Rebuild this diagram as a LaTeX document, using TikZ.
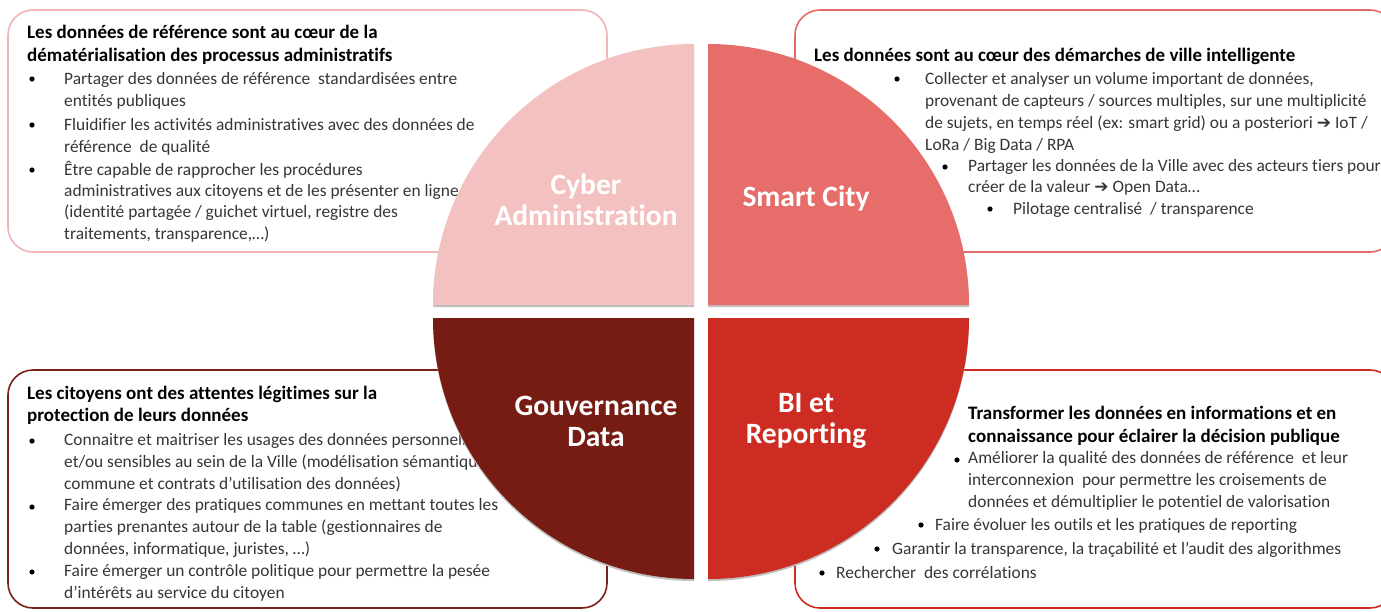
\documentclass[tikz,border=0pt]{standalone}
\usepackage{fontspec}
\setmainfont{Carlito}[Ligatures=NoCommon]
\newfontfamily\arrowfont{DejaVu Sans}
\definecolor{qA}{HTML}{F4C1C1}
\definecolor{qB}{HTML}{E76D6B}
\definecolor{qC}{HTML}{761C13}
\definecolor{qD}{HTML}{CC2C21}
\definecolor{bA}{HTML}{F2B6B6}
\definecolor{bB}{HTML}{E36A68}
\definecolor{bC}{HTML}{7A2016}
\definecolor{bD}{HTML}{CC2C21}
\definecolor{bodytxt}{HTML}{363636}
\newcommand\arr{{\arrowfont\fontsize{17}{21.6}\selectfont ➔}}
\newcommand\dsp{\ \ }
\begin{document}
\begin{tikzpicture}[x=1pt,y=1pt,
  panel/.style={fill=white,line width=1.6pt,rounded corners=25pt},
  ttl/.style={anchor=base west,inner sep=0pt,align=left,text=black,font=\fontsize{19}{22.5}\selectfont\bfseries},
  body/.style={anchor=base west,inner sep=0pt,align=left,text=bodytxt,font=\fontsize{17.4}{21.6}\selectfont},
  dot/.style={circle,fill=black,inner sep=0pt,minimum size=5.2pt},
  qlabel/.style={text=white,align=center,font=\fontsize{29.5}{31}\selectfont\bfseries},
  shadowq/.style={fill=black!25}
]
\useasboundingbox (0,0) rectangle (1381,-611);

% panels
\draw[panel,draw=bA] (8,-10) rectangle (607,-252);
\draw[panel,draw=bB] (795,-10) rectangle (1395,-252);
\draw[panel,draw=bC] (8,-370) rectangle (607,-608);
\draw[panel,draw=bD] (795,-370) rectangle (1395,-608);

% top-left text (anchors at the last line's baseline)
\node[ttl] (tlt) at (27,-61) {Les données de référence sont au cœur de la\\dématérialisation des processus administratifs};
\node[dot] (tlb1) at (32,-79) {};
\node[body] (tl1) at (64,-106) {Partager des données de référence\dsp standardisées entre\\entités publiques};
\node[dot] (tlb2) at (32,-125) {};
\node[body] (tl2) at (64,-152) {Fluidifier les activités administratives avec des données de\\référence\dsp de qualité};
\node[dot] (tlb3) at (32,-170) {};
\node[body,font=\fontsize{17.4}{21.3}\selectfont] (tl3) at (64,-239) {Être capable de rapprocher les procédures\\administratives aux citoyens et de les présenter en ligne\\(identité partagée / guichet virtuel, registre des\\traitements, transparence,…)};

% top-right text
\node[ttl] (trt) at (814,-61) {Les données sont au cœur des démarches de ville intelligente};
\node[dot] (trb1) at (897,-79) {};
\node[body,font=\fontsize{17.4}{22}\selectfont] (tr1) at (925,-150) {Collecter et analyser un volume important de données,\\provenant de capteurs / sources multiples, sur une multiplicité\\de sujets, en temps réel (ex: smart grid) ou a posteriori \arr{} IoT /\\LoRa / Big Data / RPA};
\node[dot] (trb2) at (945,-167) {};
\node[body,font=\fontsize{17.4}{20.5}\selectfont] (tr2) at (968,-192) {Partager les données de la Ville avec des acteurs tiers pour\\créer de la valeur \arr{} Open Data…};
\node[dot] (trb3) at (990,-209) {};
\node[body] (tr3) at (1013,-214) {Pilotage centralisé\dsp/ transparence};

% bottom-left text
\node[ttl,font=\fontsize{19}{21.5}\selectfont\bfseries] (blt) at (27,-421) {Les citoyens ont des attentes légitimes sur la\\protection de leurs données};
\node[dot] (blb1) at (32,-441) {};
\node[body] (bl1) at (64,-489) {Connaitre et maitriser les usages des données personnelles\\et/ou sensibles au sein de la Ville (modélisation sémantique\\commune et contrats d’utilisation des données)};
\node[dot] (blb2) at (32,-507) {};
\node[body] (bl2) at (64,-554) {Faire émerger des pratiques communes en mettant toutes les\\parties prenantes autour de la table (gestionnaires de\\données, informatique, juristes, …)};
\node[dot] (blb3) at (32,-572) {};
\node[body] (bl3) at (64,-598) {Faire émerger un contrôle politique pour permettre la pesée\\d’intérêts au service du citoyen};

% bottom-right text
\node[ttl,font=\fontsize{19}{23}\selectfont\bfseries] (brt) at (968,-442) {Transformer les données en informations et en\\connaissance pour éclairer la décision publique};
\node[dot] (brb1) at (957,-460) {};
\node[body] (br1) at (968,-507) {Améliorer la qualité des données de référence\dsp et leur\\interconnexion\dsp pour permettre les croisements de\\données et démultiplier le potentiel de valorisation};
\node[dot] (brb2) at (921,-525) {};
\node[body] (br2) at (935,-530) {Faire évoluer les outils et les pratiques de reporting};
\node[dot] (brb3) at (877,-549) {};
\node[body] (br3) at (892,-554) {Garantir la transparence, la traçabilité et l’audit des algorithmes};
\node[dot] (brb4) at (822,-573) {};
\node[body] (br4) at (836,-578) {Rechercher\dsp des corrélations};

% quadrants (shadow then fill)
\fill[shadowq] (694,-307) -- (433,-307) arc[start angle=180,end angle=90,radius=261] -- cycle;
\fill[shadowq] (708,-307) -- (708,-46) arc[start angle=90,end angle=0,radius=261] -- cycle;
\fill[shadowq] (694,-320) -- (694,-581) arc[start angle=270,end angle=180,radius=261] -- cycle;
\fill[shadowq] (708,-320) -- (969,-320) arc[start angle=0,end angle=-90,radius=261] -- cycle;
\fill[qA] (694,-305) -- (433,-305) arc[start angle=180,end angle=90,radius=261] -- cycle;
\fill[qB] (708,-305) -- (708,-44) arc[start angle=90,end angle=0,radius=261] -- cycle;
\fill[qC] (694,-318) -- (694,-579) arc[start angle=270,end angle=180,radius=261] -- cycle;
\fill[qD] (708,-318) -- (969,-318) arc[start angle=0,end angle=-90,radius=261] -- cycle;

\node[qlabel] (cyber) at (586,-200) {Cyber\\Administration};
\node[qlabel] (smart) at (806,-198) {Smart City};
\node[qlabel] (gouv) at (596,-421) {Gouvernance\\Data};
\node[qlabel] (bi) at (806,-421) {BI et\\Reporting};
\end{tikzpicture}
\end{document}
